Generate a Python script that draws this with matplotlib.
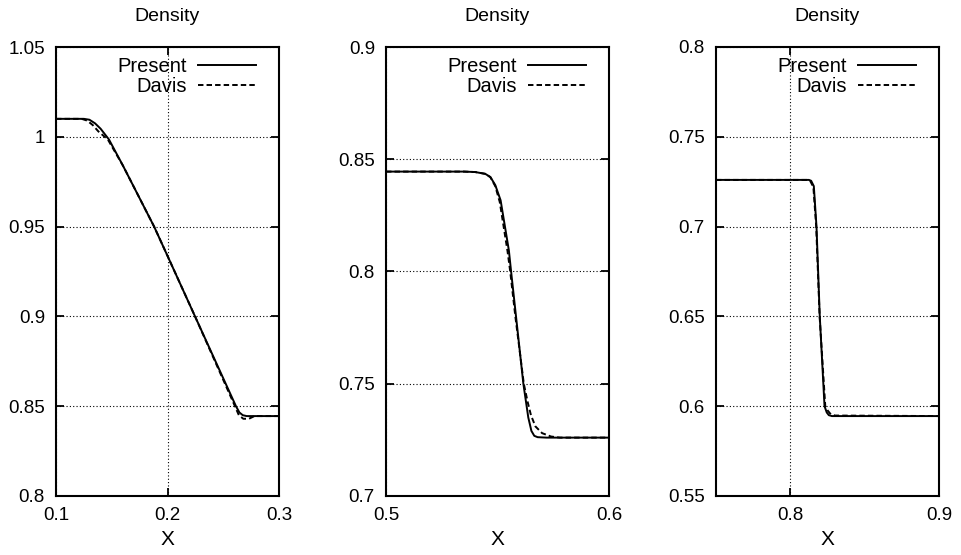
import matplotlib
matplotlib.use("Agg")
import matplotlib.pyplot as plt
from matplotlib.ticker import FuncFormatter

plt.rcParams['font.family'] = ['Liberation Sans', 'DejaVu Sans']

# ---- Panel 1 (rarefaction) ----
p1_present_x = [0.1, 0.125, 0.13, 0.135, 0.14, 0.1475, 0.16, 0.188, 0.2, 0.2247, 0.2614, 0.2645, 0.2675, 0.271, 0.3]
p1_present_y = [1.01, 1.01, 1.0095, 1.0075, 1.0045, 0.9985, 0.984, 0.95, 0.9337, 0.9, 0.85, 0.8465, 0.845, 0.8445, 0.8445]
p1_davis_x = [0.1, 0.123, 0.128, 0.133, 0.138, 0.1465, 0.16, 0.188, 0.2, 0.2247, 0.2605, 0.264, 0.268, 0.273, 0.278, 0.3]
p1_davis_y = [1.01, 1.01, 1.009, 1.0065, 1.003, 0.9985, 0.984, 0.95, 0.9337, 0.9, 0.85, 0.845, 0.843, 0.843, 0.8445, 0.8445]

# ---- Panel 2 (contact) ----
p2_present_x = [0.5, 0.535, 0.540, 0.5445, 0.5468, 0.549, 0.5514, 0.5551, 0.5561, 0.5583, 0.5616, 0.5638, 0.5652, 0.5665, 0.568, 0.572, 0.6]
p2_present_y = [0.8445, 0.8445, 0.8443, 0.8435, 0.8421, 0.8385, 0.8317, 0.8094, 0.80, 0.78, 0.75, 0.735, 0.729, 0.7268, 0.7262, 0.726, 0.726]
p2_davis_x = [0.5, 0.535, 0.540, 0.5445, 0.5468, 0.549, 0.551, 0.5545, 0.5557, 0.558, 0.5618, 0.5635, 0.565, 0.567, 0.570, 0.574, 0.578, 0.6]
p2_davis_y = [0.8445, 0.8445, 0.8443, 0.8435, 0.842, 0.838, 0.831, 0.809, 0.80, 0.78, 0.75, 0.742, 0.736, 0.731, 0.728, 0.7265, 0.726, 0.726]

# ---- Panel 3 (shock) ----
p3_present_x = [0.75, 0.8125, 0.814, 0.8158, 0.8176, 0.8198, 0.823, 0.8245, 0.8259, 0.828, 0.9]
p3_present_y = [0.726, 0.726, 0.7255, 0.7225, 0.70, 0.65, 0.60, 0.5965, 0.595, 0.5945, 0.5945]
p3_davis_x = [0.75, 0.812, 0.8135, 0.8155, 0.8174, 0.8197, 0.8235, 0.8252, 0.8272, 0.830, 0.9]
p3_davis_y = [0.726, 0.726, 0.7252, 0.722, 0.70, 0.65, 0.60, 0.5975, 0.5955, 0.5948, 0.5945]

panels = [
    dict(px=p1_present_x, py=p1_present_y, dx=p1_davis_x, dy=p1_davis_y,
         xlim=(0.1, 0.3), ylim=(0.8, 1.05),
         xticks=[0.1, 0.2, 0.3], yticks=[0.8, 0.85, 0.9, 0.95, 1.0, 1.05]),
    dict(px=p2_present_x, py=p2_present_y, dx=p2_davis_x, dy=p2_davis_y,
         xlim=(0.5, 0.6), ylim=(0.7, 0.9),
         xticks=[0.5, 0.6], yticks=[0.7, 0.75, 0.8, 0.85, 0.9]),
    dict(px=p3_present_x, py=p3_present_y, dx=p3_davis_x, dy=p3_davis_y,
         xlim=(0.75, 0.9), ylim=(0.55, 0.8),
         xticks=[0.8, 0.9], yticks=[0.55, 0.6, 0.65, 0.7, 0.75, 0.8]),
]

W, H = 961, 555
fig = plt.figure(figsize=(W / 100, H / 100), dpi=100)
lefts = [56, 386, 716]
fmt = FuncFormatter(lambda v, p: "%g" % round(v, 4))

for left, pd in zip(lefts, panels):
    ax = fig.add_axes([left / W, 1 - 496 / H, 223 / W, 449 / H])
    ax.plot(pd['px'], pd['py'], color='black', lw=1.4, label='Present')
    l2, = ax.plot(pd['dx'], pd['dy'], color='black', lw=1.4, label='Davis')
    l2.set_dashes([2.8, 1.6])
    ax.set_xlim(*pd['xlim'])
    ax.set_ylim(*pd['ylim'])
    ax.set_xticks(pd['xticks'])
    ax.set_yticks(pd['yticks'])
    ax.xaxis.set_major_formatter(fmt)
    ax.yaxis.set_major_formatter(fmt)
    ax.grid(True, color='black', linestyle=(0, (1, 2.0)), linewidth=0.8)
    ax.tick_params(direction='in', length=6, width=1.3, top=True, right=True,
                   labelsize=13.5, pad=8)
    for s in ax.spines.values():
        s.set_linewidth(1.5)
    ax.set_title('Density', fontsize=14, pad=18.5)
    ax.set_xlabel('X', fontsize=15, labelpad=4)
    ax.legend(loc='upper right', bbox_to_anchor=(0.897, 0.978), frameon=False,
              markerfirst=False, fontsize=14.5, handlelength=2.9, handletextpad=0.55,
              labelspacing=0.08, borderpad=0, borderaxespad=0)

fig.savefig('out.png', dpi=100)
